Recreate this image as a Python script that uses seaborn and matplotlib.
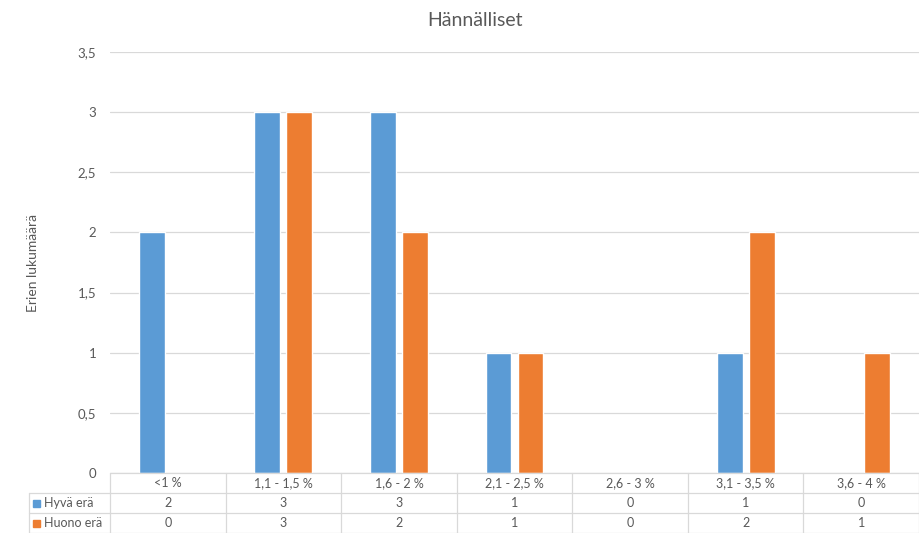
import matplotlib
matplotlib.use("Agg")
import matplotlib.pyplot as plt
import matplotlib.transforms as mtransforms
from matplotlib.patches import Rectangle
import seaborn as sns
import pandas as pd

categories = ["<1 %", "1,1 - 1,5 %", "1,6 - 2 %", "2,1 - 2,5 %", "2,6 - 3 %", "3,1 - 3,5 %", "3,6 - 4 %"]
series_names = ["Hyvä erä", "Huono erä"]
hyva = [2, 3, 3, 1, 0, 1, 0]
huono = [0, 3, 2, 1, 0, 2, 1]
y_ticks = [0, 0.5, 1, 1.5, 2, 2.5, 3, 3.5]
y_tick_labels = ["0", "0,5", "1", "1,5", "2", "2,5", "3", "3,5"]
colors = ["#5B9BD5", "#ED7D31"]

sns.set_theme(style="white")
plt.rcParams["font.family"] = ["Lato", "DejaVu Sans"]

df = pd.DataFrame({
    "kategoria": categories * 2,
    "sarja": [series_names[0]] * len(categories) + [series_names[1]] * len(categories),
    "arvo": hyva + huono,
})

W, H = 919, 533
fig = plt.figure(figsize=(W / 100, H / 100), dpi=100)
y0, y35 = 473, 52
ax = fig.add_axes([110 / W, (H - y0) / H, 1 - 110 / W, (y0 - y35) / H])

sns.barplot(data=df, x="kategoria", y="arvo", hue="sarja", palette=colors,
            width=0.554, gap=0.19, ax=ax, legend=False, saturation=1)

ax.set_xlim(-0.5, len(categories) - 0.5)
ax.set_ylim(0, 3.5)
ax.set_yticks(y_ticks)
ax.set_yticklabels(y_tick_labels)
ax.set_xticks([])
ax.set_xlabel("")
ax.set_ylabel("")
grid_c = "#D9D9D9"
text_c = "#595959"
ax.grid(axis="y", color=grid_c, linewidth=0.9)
ax.set_axisbelow(True)
for s in ax.spines.values():
    s.set_visible(False)
ax.tick_params(axis="y", length=0, pad=10, labelsize=9.5, labelcolor=text_c)

fig.text(475 / W, 1 - 21 / H, "Hännälliset", ha="center", va="center",
         fontsize=14, color=text_c)
fig.text(33 / W, 1 - 263 / H, "Erien lukumäärä", ha="center", va="center",
         rotation=90, fontsize=10, color=text_c)

# data table below the plot: x in data units, y in figure fraction
trx = mtransforms.blended_transform_factory(ax.transData, fig.transFigure)


def fy(py):
    return 1 - py / H


line_kw = dict(color=grid_c, linewidth=0.9, transform=trx, clip_on=False)
n = len(categories)
ax.plot([-0.5, n - 0.5], [fy(473)] * 2, **line_kw)
for py in (493, 513, 533):
    fig.add_artist(plt.Line2D([29 / W, 1], [fy(py)] * 2, color=grid_c, linewidth=0.9))
for i in range(n + 1):
    ax.plot([i - 0.5] * 2, [fy(473), fy(533)], **line_kw)
fig.add_artist(plt.Line2D([29 / W] * 2, [fy(493), fy(533)], color=grid_c, linewidth=0.9))

txt_kw = dict(ha="center", va="center", fontsize=9, color=text_c, transform=trx)
for i, c in enumerate(categories):
    ax.text(i, fy(483), c, **txt_kw)
    ax.text(i, fy(503), str(hyva[i]), **txt_kw)
    ax.text(i, fy(523), str(huono[i]), **txt_kw)

for j, (name, col) in enumerate(zip(series_names, colors)):
    yc = 503 + 20 * j
    fig.add_artist(Rectangle((33 / W, fy(yc + 3.5)), 7 / W, 7 / H, color=col,
                             transform=fig.transFigure))
    fig.text(44 / W, fy(yc), name, ha="left", va="center", fontsize=9, color=text_c)

fig.savefig("out.png", dpi=100)
